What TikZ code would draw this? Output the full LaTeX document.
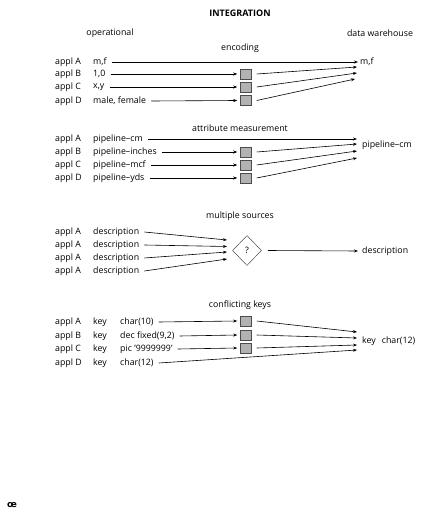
\documentclass[tikz,border=0pt]{standalone}
\usepackage{fontspec}
\setmainfont{Open Sans}
\newfontfamily\symfont{DejaVu Sans}
\usetikzlibrary{arrows.meta,shapes.geometric}
\begin{document}
\begin{tikzpicture}[x=1pt,y=-1pt,
  every node/.style={font=\fontsize{8.8}{10}\selectfont, inner sep=0pt},
  arr/.style={-{Stealth[length=4pt,width=3pt]}, line width=0.6pt},
  gbox/.style={draw=black!70, line width=0.5pt, fill=black!30, minimum width=11pt, minimum height=10pt},
  lbl/.style={anchor=west},
  diam/.style={diamond, draw=black!70, line width=0.5pt, minimum width=29pt, minimum height=30pt, aspect=1}]
\useasboundingbox (0,0) rectangle (435,513);

\node[font=\fontsize{9}{10}\selectfont\bfseries] (title) at (240,13) {INTEGRATION};
\node (op) at (110,33) {operational};
\node (dw) at (380,33) {data warehouse};

% ---- encoding
\node (h1) at (240,48) {encoding};
\foreach \r/\y/\v in {A/62/{m,f}, B/74/{1,0}, C/87/{x,y}, D/101/{male, female}} {
  \node[lbl] (a1\r) at (55,\y) {appl \r};
  \node[lbl] (v1\r) at (93,\y) {\v};
}
\node[lbl] (t1) at (360,62) {m,f};
\node[gbox] (b1B) at (246,74) {};
\node[gbox] (b1C) at (246,87) {};
\node[gbox] (b1D) at (246,100.5) {};
\coordinate (e1B) at (357,67);
\coordinate (e1C) at (357,73);
\coordinate (e1D) at (355,79);
\draw[arr] ([xshift=5pt]v1A.east) -- ([xshift=-2pt]t1.west);
\draw[arr] ([xshift=5pt]v1B.east) -- ([xshift=-3pt]b1B.west);
\draw[arr] ([xshift=5pt]v1C.east) -- ([xshift=-3pt]b1C.west);
\draw[arr] ([xshift=5pt]v1D.east) -- ([xshift=-3pt]b1D.west);
\draw[arr] ([xshift=5pt]b1B.east) -- (e1B);
\draw[arr] ([xshift=5pt]b1C.east) -- (e1C);
\draw[arr] ([xshift=5pt]b1D.east) -- (e1D);

% ---- attribute measurement
\node (h2) at (240,128) {attribute measurement};
\foreach \r/\y/\v in {A/139/{pipeline–cm}, B/152/{pipeline–inches}, C/165/{pipeline–mcf}, D/178/{pipeline–yds}} {
  \node[lbl] (a2\r) at (55,\y) {appl \r};
  \node[lbl] (v2\r) at (93,\y) {\v};
}
\node[lbl] (t2) at (362,145) {pipeline–cm};
\node[gbox] (b2B) at (246,152) {};
\node[gbox] (b2C) at (246,165) {};
\node[gbox] (b2D) at (246,178) {};
\coordinate (e2A) at (357,139);
\coordinate (e2B) at (357,144);
\coordinate (e2C) at (357,151);
\coordinate (e2D) at (357,158);
\draw[arr] ([xshift=5pt]v2A.east) -- (e2A);
\draw[arr] ([xshift=5pt]v2B.east) -- ([xshift=-3pt]b2B.west);
\draw[arr] ([xshift=5pt]v2C.east) -- ([xshift=-3pt]b2C.west);
\draw[arr] ([xshift=5pt]v2D.east) -- ([xshift=-3pt]b2D.west);
\draw[arr] ([xshift=5pt]b2B.east) -- (e2B);
\draw[arr] ([xshift=5pt]b2C.east) -- (e2C);
\draw[arr] ([xshift=5pt]b2D.east) -- (e2D);

% ---- multiple sources
\node (h3) at (240,216) {multiple sources};
\foreach \r/\y in {1/232, 2/245, 3/258, 4/271} {
  \node[lbl] (a3\r) at (55,\y) {appl A};
  \node[lbl] (v3\r) at (93,\y) {description};
}
\node[diam] (q) at (247,250.5) {?};
\node[lbl] (t3) at (362,251) {description};
\coordinate (e31) at (227,240);
\coordinate (e32) at (227,246.5);
\coordinate (e33) at (227,252);
\coordinate (e34) at (227,259);
\foreach \r in {1,2,3,4} {
  \draw[arr] ([xshift=5pt]v3\r.east) -- (e3\r);
}
\draw[arr] ([xshift=6pt]q.east) -- ([xshift=-4pt]t3.west);

% ---- conflicting keys
\node (h4) at (240,305) {conflicting keys};
\foreach \r/\y/\v in {A/322/{char(10)}, B/336/{dec fixed(9,2)}, C/349/{pic '9999999'}, D/363/{char(12)}} {
  \node[lbl] (a4\r) at (55,\y) {appl \r};
  \node[lbl] (k4\r) at (93,\y) {key};
  \node[lbl] (v4\r) at (120,\y) {\v};
}
\node[lbl] (t4) at (362,341) {key\hspace{6pt}char(12)};
\node[gbox] (b4A) at (246,321) {};
\node[gbox] (b4B) at (246,335) {};
\node[gbox] (b4C) at (246,348) {};
\coordinate (e4A) at (357,332);
\coordinate (e4B) at (357,338);
\coordinate (e4C) at (357,345);
\coordinate (e4D) at (357,350);
\draw[arr] ([xshift=5pt]v4A.east) -- ([xshift=-3pt]b4A.west);
\draw[arr] ([xshift=5pt]v4B.east) -- ([xshift=-3pt]b4B.west);
\draw[arr] ([xshift=5pt]v4C.east) -- ([xshift=-3pt]b4C.west);
\draw[arr] ([xshift=5pt]v4D.east) -- (e4D);
\draw[arr] ([xshift=5pt]b4A.east) -- (e4A);
\draw[arr] ([xshift=5pt]b4B.east) -- (e4B);
\draw[arr] ([xshift=5pt]b4C.east) -- (e4C);

\node (logo) at (12,505) {\symfont\fontsize{9}{10}\selectfont\bfseries œ};
\end{tikzpicture}
\end{document}
